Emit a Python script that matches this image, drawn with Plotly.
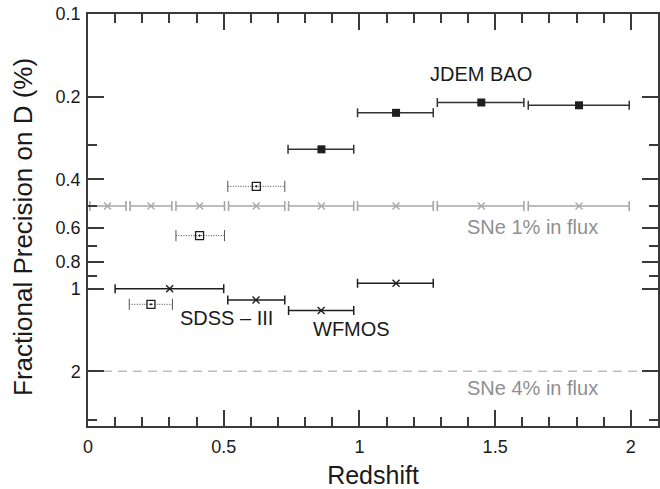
import math
import plotly.graph_objects as go

# ---------------- data ----------------
# JDEM BAO (filled squares)
jdem_z = [0.86, 1.135, 1.449, 1.809]
jdem_zlo = [0.737, 0.993, 1.287, 1.622]
jdem_zhi = [0.979, 1.272, 1.606, 1.994]
jdem_prec = [0.311, 0.229, 0.210, 0.215]

# SDSS-III (open squares, dotted bins)
sdss_z = [0.232, 0.411, 0.620]
sdss_zlo = [0.152, 0.324, 0.515]
sdss_zhi = [0.311, 0.503, 0.725]
sdss_prec = [1.14, 0.641, 0.424]

# WFMOS (crosses)
wfmos_z = [0.301, 0.619, 0.859, 1.135]
wfmos_zlo = [0.100, 0.515, 0.739, 0.993]
wfmos_zhi = [0.500, 0.725, 0.979, 1.272]
wfmos_prec = [1.00, 1.10, 1.20, 0.956]

# SNe 1% in flux (grey crosses)
sne_z = [0.072, 0.232, 0.411, 0.620, 0.860, 1.135, 1.449, 1.809]
sne_zlo = [0.007, 0.155, 0.324, 0.518, 0.739, 0.993, 1.287, 1.622]
sne_zhi = [0.140, 0.309, 0.503, 0.725, 0.979, 1.272, 1.606, 1.994]
sne_prec = [0.5] * 8

# SNe 4% in flux level
sne4_level = 2.0
z_span = [0.0, 2.1]

y_major = [0.1, 0.2, 0.4, 0.6, 0.8, 1, 2]
y_major_text = ["0.1", "0.2", "0.4", "0.6", "0.8", "1", "2"]
y_minor = [0.3, 0.5, 0.7, 0.9, 3]
x_major = [0, 0.5, 1, 1.5, 2]
x_major_text = ["0", "0.5", "1", "1.5", "2"]

FONT = "Liberation Sans, Arial, Helvetica, sans-serif"
DARK = "#1e1e1e"
AX = "#3a3a3a"
GREY = "#a6a6a6"
GREYTXT = "#8f8f8f"


def minus(c, lo):
    return [a - b for a, b in zip(c, lo)]


def plus(c, hi):
    return [b - a for a, b in zip(c, hi)]


fig = go.Figure()

# SNe 4% dashed level
fig.add_trace(go.Scatter(
    x=z_span, y=[sne4_level, sne4_level], mode="lines",
    line=dict(color="#bdbdbd", width=1.5, dash="9px,6px"),
    hoverinfo="skip", showlegend=False))

# SNe 1% grey
fig.add_trace(go.Scatter(
    x=sne_z, y=sne_prec, mode="markers",
    marker=dict(symbol="x-thin-open", size=7, color=GREY,
                line=dict(color=GREY, width=1.3)),
    error_x=dict(type="data", symmetric=False,
                 array=plus(sne_z, sne_zhi), arrayminus=minus(sne_z, sne_zlo),
                 color=GREY, thickness=1.6, width=5),
    showlegend=False))

# SDSS-III dotted bins
sx, sy = [], []
for lo, hi, p in zip(sdss_zlo, sdss_zhi, sdss_prec):
    sx += [lo, hi, None]
    sy += [p, p, None]
fig.add_trace(go.Scatter(
    x=sx, y=sy, mode="lines",
    line=dict(color="#444444", width=1, dash="1px,1.5px"),
    hoverinfo="skip", showlegend=False))
fig.add_trace(go.Scatter(
    x=sdss_zlo + sdss_zhi, y=sdss_prec + sdss_prec, mode="markers",
    marker=dict(symbol="line-ns-open", size=8, color="#555555",
                line=dict(color="#666666", width=1)),
    hoverinfo="skip", showlegend=False))
fig.add_trace(go.Scatter(
    x=sdss_z, y=sdss_prec, mode="markers",
    marker=dict(symbol="square-open-dot", size=8, color=DARK,
                line=dict(color=DARK, width=1.3)),
    showlegend=False))

# WFMOS
fig.add_trace(go.Scatter(
    x=wfmos_z, y=wfmos_prec, mode="markers",
    marker=dict(symbol="x-thin-open", size=7, color=DARK,
                line=dict(color=DARK, width=1.4)),
    error_x=dict(type="data", symmetric=False,
                 array=plus(wfmos_z, wfmos_zhi), arrayminus=minus(wfmos_z, wfmos_zlo),
                 color=DARK, thickness=1.5, width=4.5),
    showlegend=False))

# JDEM BAO
fig.add_trace(go.Scatter(
    x=jdem_z, y=jdem_prec, mode="markers",
    marker=dict(symbol="square", size=8, color=DARK),
    error_x=dict(type="data", symmetric=False,
                 array=plus(jdem_z, jdem_zhi), arrayminus=minus(jdem_z, jdem_zlo),
                 color="#333333", thickness=1.5, width=4.5),
    showlegend=False))

ann = [
    ("JDEM BAO", 1.447, 0.1655, "#1a1a1a"),
    ("SDSS \u2013 III", 0.512, 1.28, "#1a1a1a"),
    ("WFMOS", 0.97, 1.40, "#1a1a1a"),
    ("SNe 1% in flux", 1.639, 0.596, GREYTXT),
    ("SNe 4% in flux", 1.639, 2.30, GREYTXT),
]
for t, x, y, c in ann:
    fig.add_annotation(x=x, y=math.log10(y), xref="x", yref="y", text=t,
                       showarrow=False, font=dict(family=FONT, size=20, color=c))

# y-axis title, placed as a rotated annotation left of the tick labels
fig.add_annotation(x=0, y=0.5, xref="paper", yref="paper", xshift=-65, yshift=-7,
                   text="Fractional Precision on D (%)", textangle=-90,
                   showarrow=False, xanchor="center", yanchor="middle",
                   font=dict(family=FONT, size=26, color="#1a1a1a"))

fig.update_layout(
    width=660, height=489,
    margin=dict(l=88, r=2, t=14, b=63),
    paper_bgcolor="white", plot_bgcolor="white",
    font=dict(family=FONT, color="#1a1a1a"),
    xaxis=dict(
        range=z_span, showgrid=False, zeroline=False, automargin=False,
        showline=True, linecolor=AX, linewidth=1.5, mirror="ticks",
        ticks="inside", ticklen=16, tickwidth=1.5, tickcolor=AX,
        tickmode="array", tickvals=x_major, ticktext=x_major_text,
        tickfont=dict(size=18, family=FONT, color="#1a1a1a"),
        ticklabelstandoff=4, ticklabeloverflow="allow",
        minor=dict(ticks="inside", ticklen=9, tickwidth=1.5, tickcolor=AX,
                   dtick=0.1, tick0=0, showgrid=False),
        title=dict(text="Redshift", font=dict(size=25, family=FONT, color="#1a1a1a"),
                   standoff=13),
    ),
    yaxis=dict(
        type="log", range=[0.5, -1], showgrid=False, zeroline=False, automargin=False,
        showline=True, linecolor=AX, linewidth=1.5, mirror="ticks",
        ticks="inside", ticklen=16, tickwidth=1.5, tickcolor=AX,
        tickmode="array", tickvals=y_major, ticktext=y_major_text,
        tickfont=dict(size=18, family=FONT, color="#1a1a1a"),
        ticklabelstandoff=2, ticklabeloverflow="allow",
        minor=dict(ticks="inside", ticklen=9, tickwidth=1.5, tickcolor=AX,
                   tickvals=y_minor, showgrid=False),
    ),
)

# remove the browser's default 8px page margin so the figure fills the window
fig.write_html("out.html", config={"displayModeBar": False},
               post_script="document.body.style.margin='0';document.body.style.overflow='hidden';")
